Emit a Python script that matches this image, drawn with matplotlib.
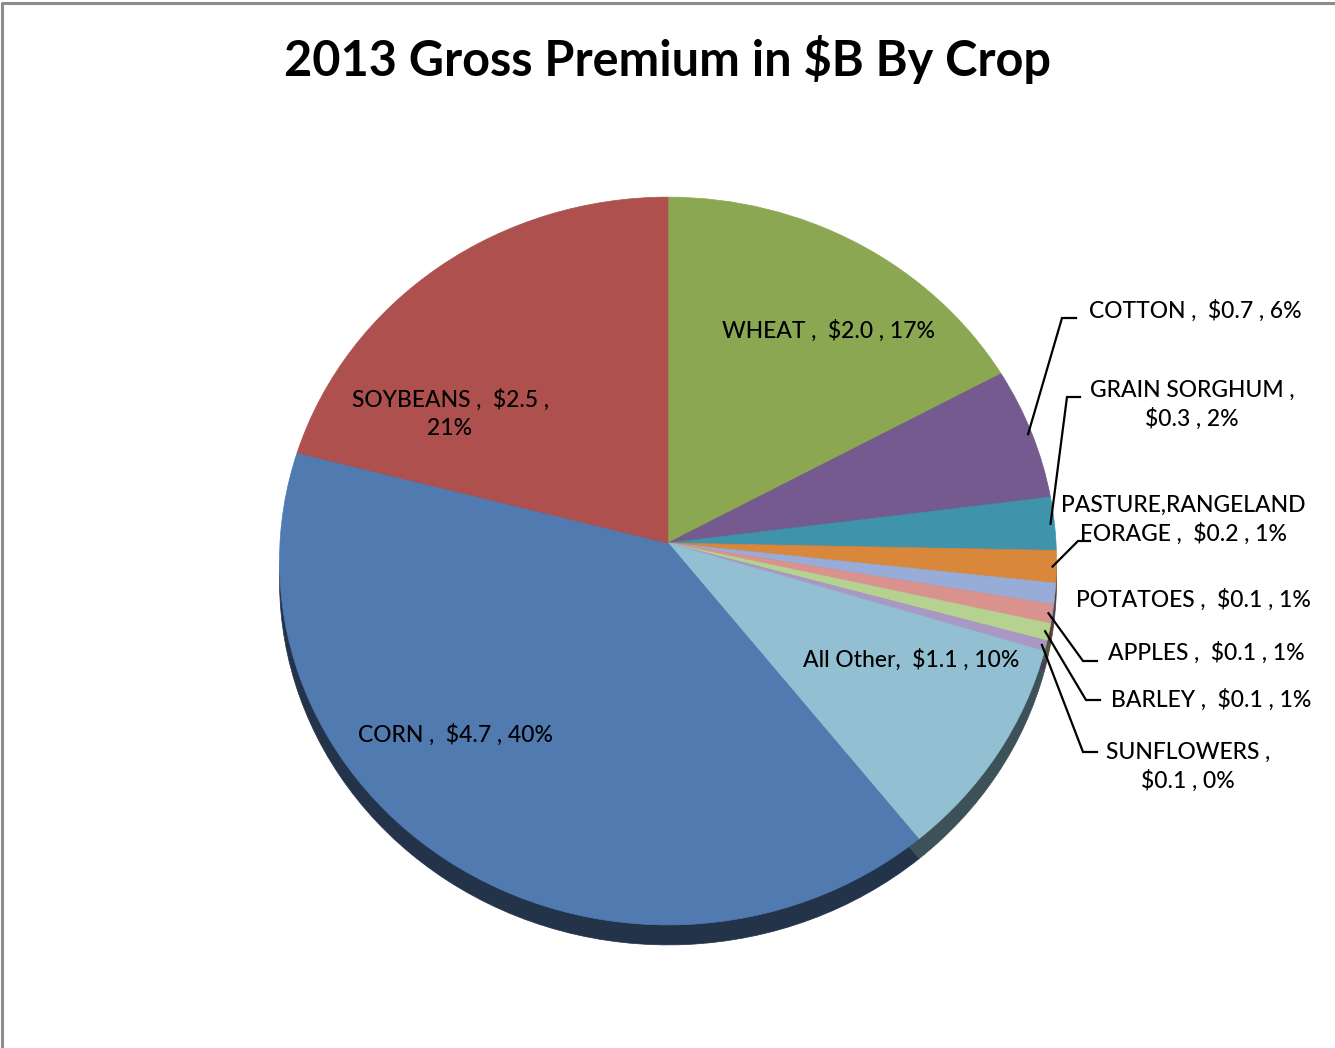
import matplotlib

matplotlib.use("Agg")

import matplotlib.pyplot as plt
import numpy as np
from matplotlib.colors import to_rgb
from matplotlib.transforms import Affine2D, Transform

# 2013 gross premium by crop, $ billions (clockwise from 12 o'clock)
crops = ["WHEAT ", "COTTON ", "GRAIN SORGHUM ", "PASTURE,RANGELAND FORAGE ",
         "POTATOES ", "APPLES ", "BARLEY ", "SUNFLOWERS ", "All Other",
         "CORN ", "SOYBEANS "]
premium = [2.03, 0.70, 0.28, 0.17, 0.11, 0.10, 0.09, 0.055, 1.14, 4.72, 2.49]
colors = ["#8ba752", "#745a8f", "#3f93aa", "#d9873a", "#97acd7", "#da928f",
          "#b6d291", "#aa98c4", "#92c0d2", "#507ab0", "#ae504d"]

plt.rcParams["font.family"] = ["Lato", "DejaVu Sans"]

W, H = 1335, 1048
APEX = (668, 543)
RX, RY = 388, 363
TILT = 0.0495
DEPTH = 20


class TiltTransform(Transform):
    """Cheap perspective: the far half of the disc shrinks, the near half grows."""
    input_dims = output_dims = 2
    is_separable = False
    has_inverse = False

    def __init__(self, k):
        super().__init__()
        self.k = k

    def transform_non_affine(self, values):
        xy = np.asarray(values, dtype=float)
        w = 1.0 + self.k * xy[:, 1]
        return np.column_stack([xy[:, 0] / w, xy[:, 1] / w])


def disc_to_px(dy=0):
    return TiltTransform(TILT) + Affine2D().scale(RX, -RY).translate(APEX[0], APEX[1] + dy)


def darker(c, f=0.42):
    r, g, b = to_rgb(c)
    return (r * f, g * f, b * f)


fig = plt.figure(figsize=(W / 100, H / 100), dpi=100)
ax = fig.add_axes([0, 0, 1, 1])

# side of the disc: a darker copy pushed down
side, _ = ax.pie(premium, colors=[darker(c) for c in colors], startangle=90,
                 counterclock=False, radius=1, center=(0, 0))
for w in side:
    w.set_transform(disc_to_px(DEPTH) + ax.transData)
    w.set_edgecolor(w.get_facecolor())
    w.set_linewidth(0.5)
    w.set_zorder(1)

top, _ = ax.pie(premium, colors=colors, startangle=90, counterclock=False,
                radius=1, center=(0, 0))
for w in top:
    w.set_transform(disc_to_px() + ax.transData)
    w.set_edgecolor(w.get_facecolor())
    w.set_linewidth(0.5)
    w.set_zorder(2)

ax.set_aspect("auto")
ax.set_xlim(0, W)
ax.set_ylim(H, 0)
ax.axis("off")

# frame of the chart area
ax.plot([2, 2, W], [H, 3, 3], color="#8c8c8c", lw=2.2, zorder=5, solid_capstyle="butt")

ax.text(668, 60, "2013 Gross Premium in $B By Crop", ha="center", va="center",
        fontsize=35, fontweight="bold", color="black")

total = sum(premium)
vals = np.array(premium)
frac = vals / total
mid = np.cumsum(frac) - frac / 2
phi = 2 * np.pi * mid
rim = disc_to_px().transform(np.column_stack([np.sin(phi), np.cos(phi)]) * 0.99)

# text anchor (center), how to wrap, leader elbow and tail end
layout = {
    "WHEAT ": ((828, 331), None, None),
    "SOYBEANS ": ((450, 414), "value", None),
    "CORN ": ((455, 735), None, None),
    "All Other": ((911, 660), None, None),
    "COTTON ": ((1195, 311), None, ((1062, 318), 1076)),
    "GRAIN SORGHUM ": ((1192, 405), "name", ((1067, 397), 1080)),
    "PASTURE,RANGELAND FORAGE ": ((1183, 520), "inside", ((1078, 541), 1090)),
    "POTATOES ": ((1193, 600), None, None),
    "APPLES ": ((1206, 653), None, ((1083, 661), 1097)),
    "BARLEY ": ((1211, 700), None, ((1086, 700), 1100)),
    "SUNFLOWERS ": ((1188, 767), "name", ((1083, 752), 1097)),
}

for i, name in enumerate(crops):
    pos, wrap, leader = layout[name]
    sep_name = ",  "
    if wrap == "name":
        label = f"{name},\n${premium[i]:.1f} , {frac[i] * 100:.0f}%"
    elif wrap == "value":
        label = f"{name}{sep_name}${premium[i]:.1f} ,\n{frac[i] * 100:.0f}%"
    elif wrap == "inside":
        first, rest = name.split(" ", 1)
        label = f"{first}\n{rest}{sep_name}${premium[i]:.1f} , {frac[i] * 100:.0f}%"
    else:
        label = f"{name}{sep_name}${premium[i]:.1f} , {frac[i] * 100:.0f}%"
    ax.text(pos[0], pos[1], label, ha="center", va="center", fontsize=16.5,
            fontweight="medium", color="black", linespacing=1.4, zorder=6)
    if leader is not None:
        (ex, ey), tail = leader
        ax.plot([rim[i, 0], ex, tail], [rim[i, 1], ey, ey], color="black",
                lw=1.6, zorder=6, solid_joinstyle="miter")

fig.savefig("out.png", dpi=100)
plt.close(fig)
